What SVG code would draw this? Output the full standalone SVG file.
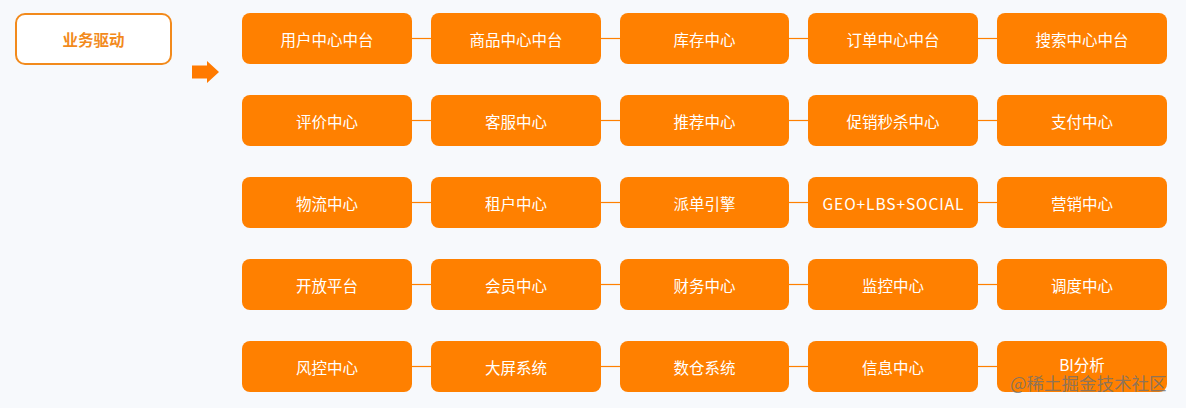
<svg xmlns="http://www.w3.org/2000/svg" width="1186" height="408" viewBox="0 0 1186 408">
<style>
.n rect{fill:#ff8000}
.n text{fill:#ffffff;font-family:"Noto Sans CJK SC","Noto Sans",sans-serif;font-size:15.5px;text-anchor:middle;dominant-baseline:central}
#conn line{stroke:#ff8000;stroke-width:1.2}
</style>
<rect width="1186" height="408" fill="#f7f9fc"/>
<g id="driver">
<rect x="16" y="14" width="155" height="50" rx="9" fill="#ffffff" stroke="#f28a1c" stroke-width="2"/>
<text x="93.5" y="39" fill="#f28a1c" font-family="'Noto Sans CJK SC',sans-serif" font-size="15.5" font-weight="bold" text-anchor="middle" dominant-baseline="central">业务驱动</text>
</g>
<g id="arrow">
<polygon points="192,65.5 207,65.5 207,61 219,72 207,83 207,78.5 192,78.5" fill="#ff7a00"/>
</g>
<g id="conn">
<line x1="412" y1="38.5" x2="431" y2="38.5"/><line x1="601" y1="38.5" x2="620" y2="38.5"/><line x1="789" y1="38.5" x2="808" y2="38.5"/><line x1="978" y1="38.5" x2="997" y2="38.5"/>
<line x1="412" y1="120.5" x2="431" y2="120.5"/><line x1="601" y1="120.5" x2="620" y2="120.5"/><line x1="789" y1="120.5" x2="808" y2="120.5"/><line x1="978" y1="120.5" x2="997" y2="120.5"/>
<line x1="412" y1="202.5" x2="431" y2="202.5"/><line x1="601" y1="202.5" x2="620" y2="202.5"/><line x1="789" y1="202.5" x2="808" y2="202.5"/><line x1="978" y1="202.5" x2="997" y2="202.5"/>
<line x1="412" y1="284.5" x2="431" y2="284.5"/><line x1="601" y1="284.5" x2="620" y2="284.5"/><line x1="789" y1="284.5" x2="808" y2="284.5"/><line x1="978" y1="284.5" x2="997" y2="284.5"/>
<line x1="412" y1="366.5" x2="431" y2="366.5"/><line x1="601" y1="366.5" x2="620" y2="366.5"/><line x1="789" y1="366.5" x2="808" y2="366.5"/><line x1="978" y1="366.5" x2="997" y2="366.5"/>
</g>
<g id="n11" class="n"><rect x="242" y="13" width="170" height="51" rx="8"/><text x="327" y="38.5">用户中心中台</text></g>
<g id="n12" class="n"><rect x="431" y="13" width="170" height="51" rx="8"/><text x="516" y="38.5">商品中心中台</text></g>
<g id="n13" class="n"><rect x="620" y="13" width="169" height="51" rx="8"/><text x="704.5" y="38.5">库存中心</text></g>
<g id="n14" class="n"><rect x="808" y="13" width="170" height="51" rx="8"/><text x="893" y="38.5">订单中心中台</text></g>
<g id="n15" class="n"><rect x="997" y="13" width="170" height="51" rx="8"/><text x="1082" y="38.5">搜索中心中台</text></g>
<g id="n21" class="n"><rect x="242" y="95" width="170" height="51" rx="8"/><text x="327" y="120.5">评价中心</text></g>
<g id="n22" class="n"><rect x="431" y="95" width="170" height="51" rx="8"/><text x="516" y="120.5">客服中心</text></g>
<g id="n23" class="n"><rect x="620" y="95" width="169" height="51" rx="8"/><text x="704.5" y="120.5">推荐中心</text></g>
<g id="n24" class="n"><rect x="808" y="95" width="170" height="51" rx="8"/><text x="893" y="120.5">促销秒杀中心</text></g>
<g id="n25" class="n"><rect x="997" y="95" width="170" height="51" rx="8"/><text x="1082" y="120.5">支付中心</text></g>
<g id="n31" class="n"><rect x="242" y="177" width="170" height="51" rx="8"/><text x="327" y="202.5">物流中心</text></g>
<g id="n32" class="n"><rect x="431" y="177" width="170" height="51" rx="8"/><text x="516" y="202.5">租户中心</text></g>
<g id="n33" class="n"><rect x="620" y="177" width="169" height="51" rx="8"/><text x="704.5" y="202.5">派单引擎</text></g>
<g id="n34" class="n"><rect x="808" y="177" width="170" height="51" rx="8"/><text x="893" y="202.5" textLength="141" lengthAdjust="spacing">GEO+LBS+SOCIAL</text></g>
<g id="n35" class="n"><rect x="997" y="177" width="170" height="51" rx="8"/><text x="1082" y="202.5">营销中心</text></g>
<g id="n41" class="n"><rect x="242" y="259" width="170" height="51" rx="8"/><text x="327" y="284.5">开放平台</text></g>
<g id="n42" class="n"><rect x="431" y="259" width="170" height="51" rx="8"/><text x="516" y="284.5">会员中心</text></g>
<g id="n43" class="n"><rect x="620" y="259" width="169" height="51" rx="8"/><text x="704.5" y="284.5">财务中心</text></g>
<g id="n44" class="n"><rect x="808" y="259" width="170" height="51" rx="8"/><text x="893" y="284.5">监控中心</text></g>
<g id="n45" class="n"><rect x="997" y="259" width="170" height="51" rx="8"/><text x="1082" y="284.5">调度中心</text></g>
<g id="n51" class="n"><rect x="242" y="341" width="170" height="51" rx="8"/><text x="327" y="366.5">风控中心</text></g>
<g id="n52" class="n"><rect x="431" y="341" width="170" height="51" rx="8"/><text x="516" y="366.5">大屏系统</text></g>
<g id="n53" class="n"><rect x="620" y="341" width="169" height="51" rx="8"/><text x="704.5" y="366.5">数仓系统</text></g>
<g id="n54" class="n"><rect x="808" y="341" width="170" height="51" rx="8"/><text x="893" y="366.5">信息中心</text></g>
<g id="n55" class="n"><rect x="997" y="341" width="170" height="51" rx="8"/><text x="1082" y="364">BI分析</text></g>
<text x="1010" y="390" font-family="'Noto Sans CJK SC',sans-serif" font-size="17.5" fill="#707070" fill-opacity="0.8">@稀土掘金技术社区</text>
</svg>
